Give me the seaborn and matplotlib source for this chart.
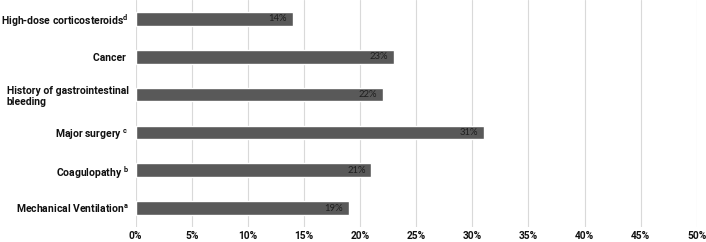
#!/usr/bin/env python3
"""Horizontal bar chart of risk factor prevalence."""

import matplotlib.pyplot as plt
import pandas as pd
import seaborn as sns
from matplotlib.ticker import FuncFormatter

factors = [
    r"High-dose corticosteroids$^{\mathbf{d}}$",
    "Cancer ",
    "History of gastrointestinal\nbleeding",
    r"Major surgery $^{\mathbf{c}}$",
    r"Coagulopathy $^{\mathbf{b}}$",
    r"Mechanical Ventilation$^{\mathbf{a}}$",
]
percent = [14, 23, 22, 31, 21, 19]
x_ticks = [0, 5, 10, 15, 20, 25, 30, 35, 40, 45, 50]


def main() -> None:
    df = pd.DataFrame({"factor": factors, "percent": percent})

    sns.set_theme(style="white")
    plt.rcParams["font.family"] = ["Roboto", "DejaVu Sans"]
    plt.rcParams["mathtext.fontset"] = "custom"
    plt.rcParams["mathtext.bf"] = "Roboto:bold"
    fig = plt.figure(figsize=(7.06, 2.42), dpi=100)
    ax = fig.add_axes([0.192, 0.062, 0.795, 0.938])

    sns.barplot(data=df, y="factor", x="percent", orient="h", color="#595959",
                saturation=1, width=0.36, ax=ax)

    for i, v in enumerate(df["percent"]):
        ax.text(v - 0.5, i, f"{v}%", ha="right", va="center", fontsize=6.8,
                color="#1f1f1f", family=["Lato", "DejaVu Sans"])

    ax.set_xlim(0, 50)
    ax.set_ylim(len(factors) - 0.5, -0.5)
    ax.set_xticks(x_ticks)
    ax.xaxis.set_major_formatter(FuncFormatter(lambda v, _: f"{v:.0f}%"))
    ax.grid(axis="x", color="#d9d9d9", linewidth=0.8)
    ax.set_axisbelow(True)
    for s in ax.spines.values():
        s.set_visible(False)
    ax.tick_params(axis="both", length=0, colors="#111111")
    ax.tick_params(axis="x", pad=3, labelsize=7.3)
    ax.tick_params(axis="y", pad=5, labelsize=7.5)
    for lbl in ax.get_xticklabels() + ax.get_yticklabels():
        lbl.set_fontweight("bold")
    for lbl in ax.get_yticklabels():
        lbl.set_multialignment("left")
    ax.set_xlabel("")
    ax.set_ylabel("")

    fig.savefig("out.png", dpi=100)


if __name__ == "__main__":
    main()
